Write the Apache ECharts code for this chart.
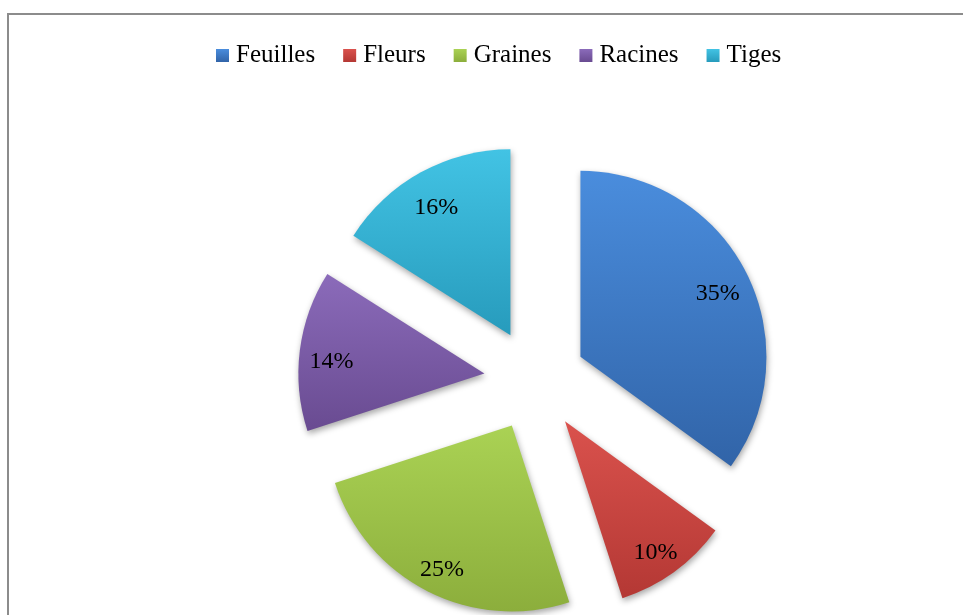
<!DOCTYPE html>
<html>
<head>
<meta charset="utf-8">
<script src="https://cdn.jsdelivr.net/npm/echarts@6/dist/echarts.min.js"></script>
<style>
  html, body { margin: 0; padding: 0; background: #fff; }
</style>
</head>
<body>
<div id="chart" style="width: 963px; height: 615px;"></div>
<script>
const categories = ['Feuilles', 'Fleurs', 'Graines', 'Racines', 'Tiges'];
const percents = [35, 10, 25, 14, 16];
const topColors = ['#4a8ddd', '#da524d', '#aad254', '#8b6bba', '#42c3e4'];
const bottomColors = ['#3164a8', '#b43834', '#8cae3c', '#694b91', '#279bbc'];

function grad(i) {
    return new echarts.graphic.LinearGradient(0, 0, 0, 1, [
        { offset: 0, color: topColors[i] },
        { offset: 1, color: bottomColors[i] }
    ]);
}

const center = [535, 380];
const radius = 186;
const explode = 51;

const sliceData = categories.map((name, i) => ({
    name: name,
    value: percents[i],
    selected: true,
    itemStyle: { color: grad(i) }
}));

const labelData = categories.map((name, i) => ({
    name: name,
    value: percents[i],
    selected: true
}));

const option = {
    animation: false,
    graphic: [
        {
            type: 'rect',
            shape: { x: 8, y: 14, width: 1200, height: 1000 },
            style: { fill: 'none', stroke: '#8c8c8c', lineWidth: 2 },
            silent: true
        }
    ],
    legend: {
        data: categories,
        left: 211,
        top: 38,
        icon: 'rect',
        itemWidth: 13,
        itemHeight: 13,
        itemGap: 28,
        selectedMode: false,
        textStyle: {
            fontFamily: 'Liberation Serif',
            fontSize: 25,
            color: '#000',
            padding: [0, 0, 0, 2]
        }
    },
    series: [
        {
            name: 'parts',
            type: 'pie',
            center: center,
            radius: [0, radius],
            startAngle: 90,
            selectedMode: 'multiple',
            selectedOffset: explode,
            label: { show: false },
            labelLine: { show: false },
            emphasis: { disabled: true },
            select: { itemStyle: { borderWidth: 0 } },
            itemStyle: {
                shadowBlur: 6,
                shadowOffsetX: 1,
                shadowOffsetY: 3,
                shadowColor: 'rgba(0,0,0,0.35)'
            },
            data: sliceData
        },
        {
            name: 'labels',
            type: 'pie',
            center: center,
            radius: [116, radius],
            startAngle: 90,
            selectedMode: 'multiple',
            selectedOffset: explode,
            silent: true,
            legendHoverLink: false,
            itemStyle: { color: 'rgba(0,0,0,0)' },
            select: { itemStyle: { color: 'rgba(0,0,0,0)', borderWidth: 0 } },
            emphasis: { disabled: true },
            labelLine: { show: false },
            label: {
                show: true,
                position: 'inside',
                // empty first line pushes the value down a little
                formatter: '{gap|}\n{v|{c}%}',
                rich: {
                    gap: { height: 14, fontSize: 1 },
                    v: {
                        fontFamily: 'Liberation Serif',
                        fontSize: 24,
                        color: '#000'
                    }
                }
            },
            data: labelData
        }
    ]
};

let myChart = echarts.init(document.getElementById('chart'));
myChart.setOption(option);

window.onresize = function () {
    myChart.resize();
};
</script>
</body>
</html>
